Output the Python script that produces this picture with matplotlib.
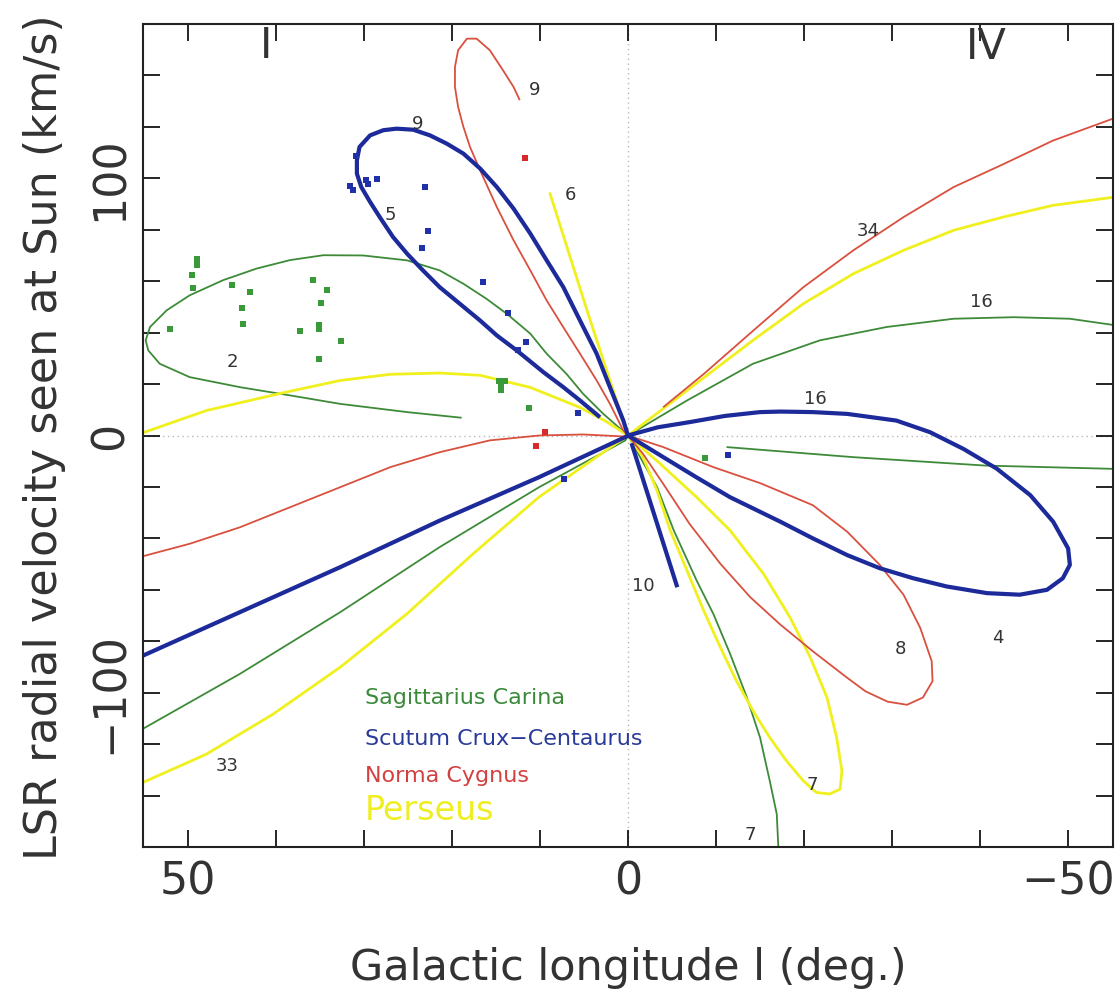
import matplotlib.pyplot as plt

# ---- model curves (galactic longitude l, LSR velocity v) ----
# Sagittarius-Carina (green)
sag_q1_l = [0, 2.8, 5.1, 7.0, 9.24, 11.1, 13.8, 16.1, 18.7, 21.4, 25.1, 30.1, 34.6, 38.4, 42.2, 46.0,
            49.8, 52.4, 54.3, 54.8, 54.5, 53.2, 49.8, 44.1, 38.4, 32.7, 25.1, 18.9]
sag_q1_v = [0, 8.4, 16.2, 24.0, 31.8, 39.6, 47.4, 53.2, 59.0, 64.2, 68.1, 70.0, 70.1, 68.2, 64.9, 60.4,
            54.5, 48.7, 42.2, 37.0, 33.1, 27.9, 22.7, 18.8, 15.6, 12.3, 9.1, 6.9]
sag_q1b_l = [0, 0.3, 10.1, 21.4, 32.7, 44.1, 55.5]
sag_q1b_v = [0, -1.9, -20.1, -43.4, -68.7, -92.7, -114.8]
sag_q4a_l = [0, -6.7, -14.2, -21.8, -29.4, -37.0, -43.8, -50.2, -55.5]
sag_q4a_v = [0, 13.6, 27.9, 37.0, 42.2, 45.4, 46.0, 45.4, 42.8]
sag_q4b_l = [-11.2, -25.5, -40.6, -55.5]
sag_q4b_v = [-4.5, -8.4, -11.7, -13.0]
sag_q4c_l = [0, -3.3, -5.2, -7.8, -9.7, -11.6, -13.5, -15.0, -16.1, -16.9, -17.1]
sag_q4c_v = [0, -20.1, -36.9, -56.4, -69.4, -84.9, -101.8, -117.4, -134.2, -147.2, -161.5]

# Scutum-Crux-Centaurus (blue)
sct_q1_l = [3.18, 5.45, 7.35, 9.6, 12.65, 14.9, 16.8, 19.1, 21.4, 23.3, 25.1, 26.7, 28.2, 29.3, 30.3,
            30.8, 30.8, 30.5, 29.3, 27.8, 26.3, 24.4, 22.5, 20.6, 18.7, 16.8, 14.9, 13.0, 11.1, 9.24,
            7.35, 5.45, 3.56, 2.05, 0.53, 0]
sct_q1_v = [7.1, 13.6, 18.8, 24.6, 33.1, 38.9, 44.7, 51.2, 57.7, 64.2, 70.7, 77.2, 84.9, 90.8, 96.6,
            101.8, 107.0, 112.2, 116.7, 118.7, 119.3, 118.9, 116.7, 113.5, 109.6, 103.8, 96.6, 88.2, 78.5, 68.1,
            57.7, 44.7, 31.8, 18.8, 5.8, 0]
sct_q1b_l = [0, 0.3, 10.1, 21.4, 32.7, 44.1, 55.5]
sct_q1b_v = [0, -0.6, -16.2, -33.1, -51.2, -68.7, -86.2]
sct_q4_l = [0, -3.4, -7.0, -11.0, -15.0, -17.3, -21.0, -24.9, -30.5, -34.3, -38.1, -41.9, -45.7, -48.3,
            -50.0, -50.2, -49.4, -47.6, -44.5, -40.8, -36.2, -32.4, -28.6, -24.9, -21.0, -17.3, -11.6,
            -7.8, -4.0, 0]
sct_q4_v = [0, 3.2, 5.2, 7.6, 9.1, 9.3, 9.1, 8.4, 5.8, 1.3, -5.2, -12.9, -23.2, -33.5,
            -43.9, -50.3, -55.5, -60.0, -61.9, -61.3, -58.7, -55.5, -51.6, -46.5, -40.0, -33.5, -24.0,
            -16.3, -8.4, 0]
sct_q4b_l = [-0.4, -5.6]
sct_q4b_v = [-3, -59]

# Norma-Cygnus (red)
nor_q1_l = [0, 0.53, 2.05, 3.56, 5.45, 7.35, 9.24, 11.1, 13.0, 14.9, 16.8, 17.95, 18.7, 19.3, 19.66,
            19.66, 19.3, 18.3, 17.2, 15.7, 14.2, 13.0, 12.3]
nor_q1_v = [0, 1.9, 12.3, 21.4, 31.8, 42.1, 52.5, 64.2, 75.9, 88.8, 103.1, 112.2, 120.0, 127.7, 135.5,
            143.3, 149.8, 154.3, 154.3, 149.8, 142.0, 135.5, 130.4]
nor_q1b_l = [0, 0.3, 5.1, 10.1, 15.7, 21.4, 27.0, 32.7, 38.4, 44.1, 49.8, 55.5]
nor_q1b_v = [0, -0.4, 0.4, 0, -1.9, -6.5, -12.3, -20.1, -27.9, -35.7, -42.1, -47.3]
nor_q4a_l = [-4.0, -8.6, -14.2, -19.9, -25.6, -31.3, -37.0, -42.7, -48.3, -55.5]
nor_q4a_v = [11.0, 23.9, 40.7, 57.6, 72.0, 84.9, 96.6, 105.6, 114.7, 123.7]
nor_q4b_l = [0, -4.0, -9.7, -15.0, -21.0, -24.9, -28.6, -31.3, -33.2, -34.5, -34.6, -33.5, -31.7, -29.5,
             -27.0, -24.9, -21.0, -17.3, -13.9, -10.5, -7.0, -4.0, -1.7, 0]
nor_q4b_v = [0, -4.5, -12.3, -18.5, -27.1, -37.4, -50.3, -61.9, -74.8, -87.7, -95.5, -101.9, -104.7, -103.5,
             -99.5, -94.2, -83.9, -73.5, -62.9, -49.9, -34.4, -18.8, -7.1, 0]

# Perseus (yellow)
per_q1_l = [0, 2.5, 5.45, 11.1, 16.8, 21.4, 27.0, 32.7, 39.2, 47.9, 55.5]
per_q1_v = [0, 5.5, 10.9, 18.7, 23.4, 24.3, 23.8, 21.4, 16.6, 9.7, 0.6]
per_q1b_l = [8.9, 4.5, 0]
per_q1b_v = [94.5, 47, 0]
per_q1c_l = [0, 2.5, 10.1, 17.6, 25.1, 32.7, 40.3, 47.9, 55.5]
per_q1c_v = [0, -5.8, -23.9, -46.0, -69.3, -90.1, -108.3, -123.9, -135.5]
per_q4a_l = [0, -6.7, -14.2, -19.9, -25.6, -31.3, -37.0, -42.7, -48.3, -55.5]
per_q4a_v = [0, 17.5, 37.0, 51.2, 62.9, 72.0, 79.8, 85.0, 89.5, 92.8]
per_q4b_l = [0, -3.5, -7.8, -11.6, -15.4, -18.4, -20.7, -22.6, -23.7, -24.3, -24.1, -22.9, -21.4, -19.9,
             -18.0, -16.1, -14.2, -12.3, -10.5, -8.6, -6.7, -4.8, -3.3, -1.7, 0]
per_q4b_v = [0, -10.5, -24.0, -36.9, -53.8, -70.7, -86.2, -101.8, -117.4, -130.3, -137.5, -139.4, -138.8, -134.2,
             -126.5, -117.4, -107.0, -95.3, -82.4, -68.1, -52.5, -36.9, -21.4, -8.4, 0]

# ---- observed points ----
sag_pts_l = [49.0, 49.0, 49.5, 49.4, 52.0, 45.0, 42.9, 43.8, 43.7, 35.8, 34.2, 34.9, 37.3, 35.1, 35.1,
             32.6, 35.1, 14.6, 14.0, 14.4, 14.4, 11.25, -8.75]
sag_pts_v = [68.8, 66.2, 62.6, 57.5, 41.6, 58.7, 55.7, 49.6, 43.5, 60.6, 56.5, 51.6, 40.6, 42.9, 41.6,
             36.6, 29.6, 21.2, 21.2, 19.0, 17.8, 10.5, -8.6]
sct_pts_l = [30.9, 31.6, 31.25, 29.8, 29.5, 28.5, 23.1, 22.7, 23.4, 16.5, 13.6, 11.6, 12.5, 5.7, 7.3, -11.4]
sct_pts_v = [108.6, 96.9, 95.3, 99.2, 97.7, 99.6, 96.5, 79.4, 72.8, 59.5, 47.5, 36.2, 33.1, 8.6, -16.9, -7.4]
nor_pts_l = [11.7, 9.4, 10.5]
nor_pts_v = [107.8, 1.2, -3.9]

# curve annotations
curve_labels = ["9", "9", "5", "6", "2", "34", "16", "16", "10", "4", "8", "7", "7", "33"]
label_l = [10.6, 23.9, 27.0, 6.5, 45.0, -27.3, -40.2, -21.3, -1.7, -42.0, -31.0, -20.9, -13.9, 45.5]
label_v = [134.2, 121, 85.6, 93.4, 28.4, 79.4, 51.8, 14.0, -58.4, -78.6, -82.9, -135.8, -155.3, -128.4]

arm_names = ["Sagittarius Carina", "Scutum Crux\u2212Centaurus", "Norma Cygnus", "Perseus"]

GREEN = '#3d8b38'
BLUE = '#1c2a9a'
RED = '#d9503f'
YELLOW = '#f0f01e'

curves = [
    (sag_q1_l, sag_q1_v, GREEN, 1.3), (sag_q1b_l, sag_q1b_v, GREEN, 1.3),
    (sag_q4a_l, sag_q4a_v, GREEN, 1.3), (sag_q4b_l, sag_q4b_v, GREEN, 1.3),
    (sag_q4c_l, sag_q4c_v, GREEN, 1.3),
    (per_q1_l, per_q1_v, YELLOW, 2.0), (per_q1b_l, per_q1b_v, YELLOW, 2.0),
    (per_q1c_l, per_q1c_v, YELLOW, 2.0), (per_q4a_l, per_q4a_v, YELLOW, 2.0),
    (per_q4b_l, per_q4b_v, YELLOW, 2.0),
    (nor_q1_l, nor_q1_v, RED, 1.3), (nor_q1b_l, nor_q1b_v, RED, 1.3),
    (nor_q4a_l, nor_q4a_v, RED, 1.3), (nor_q4b_l, nor_q4b_v, RED, 1.3),
    (sct_q1_l, sct_q1_v, BLUE, 3.0), (sct_q1b_l, sct_q1b_v, BLUE, 3.0),
    (sct_q4_l, sct_q4_v, BLUE, 3.0), (sct_q4b_l, sct_q4b_v, BLUE, 3.0),
]

fig = plt.figure(figsize=(11.18, 10.06), dpi=100)
ax = fig.add_axes([143 / 1118, 1 - 847 / 1006, 970 / 1118, 823 / 1006])

# dotted zero lines
ax.axhline(0, color='#b8b8b8', lw=1.0, ls=(0, (1, 2.5)), zorder=0)
ax.axvline(0, color='#b8b8b8', lw=1.0, ls=(0, (1, 2.5)), zorder=0)

for l, v, c, lw in curves:
    ax.plot(l, v, color=c, lw=lw, solid_joinstyle='round', solid_capstyle='butt')

ax.plot(sag_pts_l, sag_pts_v, 's', color='#3a9a3a', ms=4.5, mew=0)
ax.plot(sct_pts_l, sct_pts_v, 's', color='#2030a8', ms=4.5, mew=0)
ax.plot(nor_pts_l, nor_pts_v, 's', color='#d82828', ms=4.5, mew=0)

for t, x, y in zip(curve_labels, label_l, label_v):
    ax.text(x, y, t, fontsize=13, color='#333333', ha='center', va='center')

ax.text(41.1, 151.5, "I", fontsize=30, color='#333333', ha='center', va='center')
ax.text(-40.7, 151.0, "IV", fontsize=30, color='#333333', ha='center', va='center')

leg_colors = ['#3a8a3a', '#2a3a9a', '#d24040', '#eeee22']
leg_y = [-102, -118, -132.3, -146]
leg_size = [16, 16, 16, 24]
for name, c, y, s in zip(arm_names, leg_colors, leg_y, leg_size):
    ax.text(29.9, y, name, fontsize=s, color=c, ha='left', va='center')

ax.set_xlim(55.1, -55.1)
ax.set_ylim(-160, 160)
ax.set_xticks([50, 0, -50])
ax.set_xticklabels(["50", "0", "\u221250"])
ax.set_xticks(range(-50, 51, 10), minor=True)
ax.set_yticks([100, 0, -100])
ax.set_yticklabels(["100", "0", "\u2212100"], rotation=90, va='center')
ax.set_yticks(range(-140, 141, 20), minor=True)
ax.tick_params(which='both', direction='in', top=True, right=True, length=12, width=1.2,
               labelsize=32, labelcolor='#333333')
ax.tick_params(axis='x', pad=10)
ax.tick_params(axis='y', pad=8)
for sp in ax.spines.values():
    sp.set_linewidth(1.5)
    sp.set_color('#222222')

fig.text(0.5617, 1 - 968 / 1006, "Galactic longitude l (deg.)", fontsize=31, color='#333333',
         ha='center', va='center')
fig.text(45 / 1118, 1 - 437 / 1006, "LSR radial velocity seen at Sun (km/s)", fontsize=32,
         color='#333333', ha='center', va='center', rotation=90)

fig.savefig('out.png', dpi=100)
